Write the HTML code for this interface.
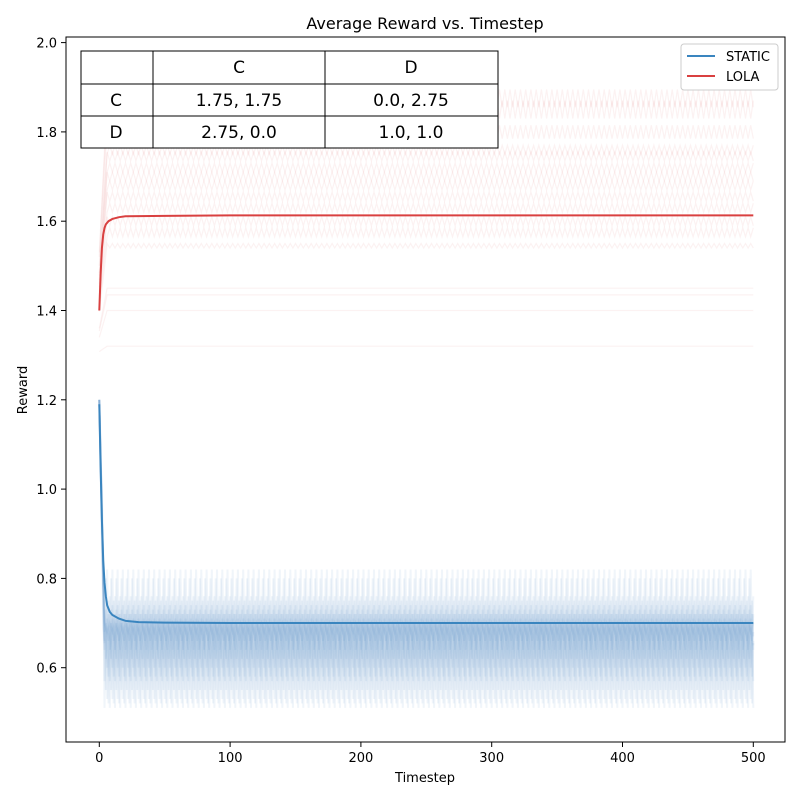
<!DOCTYPE html>
<html><head><meta charset="utf-8">
<style>
body{margin:0;background:#fff;font-family:"Liberation Sans","DejaVu Sans",sans-serif;}
svg text{font-family:"DejaVu Sans","Liberation Sans",sans-serif;}
</style></head>
<body>
<svg id="chart" width="800" height="800" viewBox="0 0 800 800" xmlns="http://www.w3.org/2000/svg">
<rect width="800" height="800" fill="#fff"/>
<text x="425" y="29" font-size="16" text-anchor="middle">Average Reward vs. Timestep</text>
<g id="faint"></g>
<g id="main"></g>
<rect x="66" y="37" width="719" height="705" fill="none" stroke="#000" stroke-width="1"/>
<g id="xticks"></g>
<g id="yticks"></g>
<text x="425" y="782" font-size="13" text-anchor="middle">Timestep</text>
<text x="27" y="390" font-size="13" text-anchor="middle" transform="rotate(-90 27 390)">Reward</text>
<g font-size="17" text-anchor="middle">
<rect x="81" y="51" width="417" height="97" fill="#fff" stroke="#000"/>
<line x1="153" y1="51" x2="153" y2="148" stroke="#000"/>
<line x1="325" y1="51" x2="325" y2="148" stroke="#000"/>
<line x1="81" y1="84" x2="498" y2="84" stroke="#000"/>
<line x1="81" y1="116" x2="498" y2="116" stroke="#000"/>
<text x="239" y="73">C</text><text x="411" y="73">D</text>
<text x="116" y="106">C</text><text x="239" y="106">1.75, 1.75</text><text x="411" y="106">0.0, 2.75</text>
<text x="116" y="138">D</text><text x="239" y="138">2.75, 0.0</text><text x="411" y="138">1.0, 1.0</text>
</g>
<g>
<rect x="681" y="44" width="97" height="46" rx="3" fill="#fff" stroke="#ccc"/>
<line x1="687" y1="56" x2="715" y2="56" stroke="#3a85bf" stroke-width="2"/>
<text x="726" y="61" font-size="13">STATIC</text>
<line x1="687" y1="76" x2="715" y2="76" stroke="#d94040" stroke-width="2"/>
<text x="726" y="81" font-size="13">LOLA</text>
</g>
</svg>
<script>
const xTicks=[0,100,200,300,400,500];
const yTicks=[0.6,0.8,1.0,1.2,1.4,1.6,1.8,2.0];
const staticTimes=[0,1,2,3,4,5,6,8,10,15,20,30,50,100,200,300,400,500];
const staticValues=[1.19,1.05,0.93,0.84,0.79,0.76,0.74,0.725,0.718,0.71,0.705,0.702,0.701,0.70,0.70,0.70,0.70,0.70];
const lolaTimes=[0,1,2,3,4,5,7,10,15,20,50,100,500];
const lolaValues=[1.40,1.48,1.54,1.57,1.585,1.593,1.6,1.605,1.609,1.611,1.612,1.613,1.613];
const redLevels=[1.32,1.40,1.435,1.45,1.545,1.575,1.60,1.63,1.655,1.68,1.70,1.72,1.745,1.76,1.80,1.85,1.875];
const redSwing=[0.0,0.0,0.0,0.0,0.005,0.01,0.01,0.01,0.01,0.01,0.01,0.01,0.01,0.01,0.015,0.02,0.02];
const blueLow=[0.51,0.52,0.53,0.55,0.57,0.58,0.60,0.62,0.64,0.66,0.68];
const blueHigh=[0.82,0.80,0.76,0.75,0.74,0.73,0.72,0.72,0.71,0.70,0.70];
const NS='http://www.w3.org/2000/svg';
function X(t){return 99.3+t*1.308;}
function Y(v){return 667.7-(v-0.6)*446.5;}
const faint=document.getElementById('faint');
function pl(parent,pts,color,w,op){const p=document.createElementNS(NS,'polyline');p.setAttribute('points',pts.join(' '));p.setAttribute('fill','none');p.setAttribute('stroke',color);p.setAttribute('stroke-width',w);p.setAttribute('stroke-opacity',op);parent.appendChild(p);return p;}
redLevels.forEach((lv,i)=>{const pts=[];const sw=redSwing[i];
 for(let t=0;t<=500;t+=2){let v=lv;if(t<6){v=lv-(lv-1.3)*(1-t/6)*0.6;} else v=lv+((t/2+i)%2?sw:-sw);pts.push(X(t).toFixed(1)+','+Y(v).toFixed(1));}
 const p=pl(faint,pts,'#d94040',1.2,0.07);
 
 
});
blueLow.forEach((lo,i)=>{const hi=blueHigh[i];const pts=[];
 for(let t=0;t<=500;t+=1){let v;const ph=(t+i)%4;v=ph<2?(ph==0?lo:(lo+hi)/2):(ph==2?hi:(lo+hi)/2);
 if(t<4){v=v+(1.2-v)*(1-t/4);}pts.push(X(t).toFixed(1)+','+Y(v).toFixed(1));}
 const p=pl(faint,pts,'#3a85bf',2,0.08);
 
 
});
const main=document.getElementById('main');
const s=pl(main,staticTimes.map((t,i)=>X(t)+','+Y(staticValues[i])),'#3a85bf',2,1);


const l=pl(main,lolaTimes.map((t,i)=>X(t)+','+Y(lolaValues[i])),'#d94040',2,1);


const xg=document.getElementById('xticks');
xTicks.forEach(t=>{const ln=document.createElementNS(NS,'line');ln.setAttribute('x1',X(t));ln.setAttribute('x2',X(t));ln.setAttribute('y1',742);ln.setAttribute('y2',747);ln.setAttribute('stroke','#000');xg.appendChild(ln);
 const tx=document.createElementNS(NS,'text');tx.setAttribute('x',X(t));tx.setAttribute('y',762);tx.setAttribute('font-size','13');tx.setAttribute('text-anchor','middle');tx.textContent=t;
 
 
 xg.appendChild(tx);});
const yg=document.getElementById('yticks');
yTicks.forEach(v=>{const ln=document.createElementNS(NS,'line');ln.setAttribute('x1',61);ln.setAttribute('x2',66);ln.setAttribute('y1',Y(v));ln.setAttribute('y2',Y(v));ln.setAttribute('stroke','#000');yg.appendChild(ln);
 const tx=document.createElementNS(NS,'text');tx.setAttribute('x',57);tx.setAttribute('y',Y(v)+5);tx.setAttribute('font-size','13');tx.setAttribute('text-anchor','end');tx.textContent=v.toFixed(1);
 
 
 yg.appendChild(tx);});
</script>
</body></html>
